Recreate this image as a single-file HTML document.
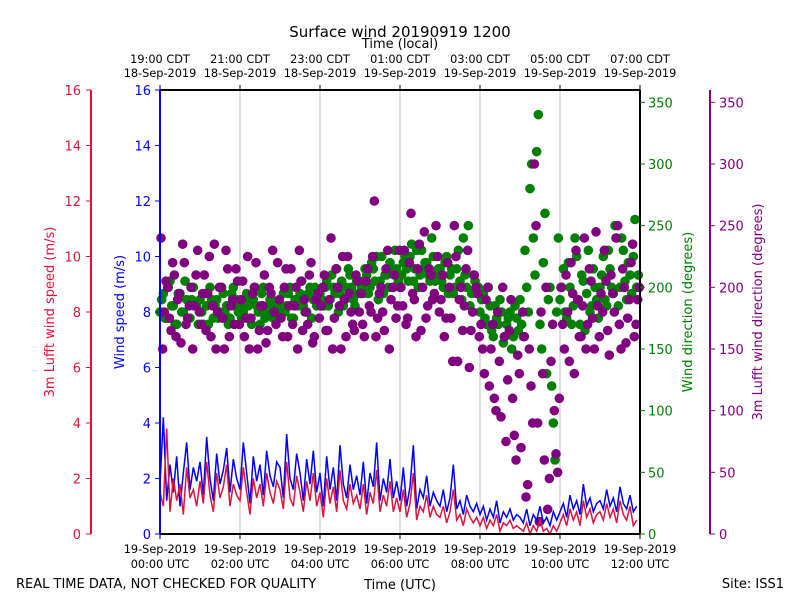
<!DOCTYPE html>
<html><head><meta charset="utf-8"><style>
body{margin:0;background:#fff}
svg text{font-family:"DejaVu Sans","Liberation Sans",sans-serif}
</style></head><body>
<svg id="c" width="800" height="600" xmlns="http://www.w3.org/2000/svg">
<text x="400" y="37" font-size="15" text-anchor="middle">Surface wind 20190919 1200</text>
<text x="400" y="48" font-size="13" text-anchor="middle">Time (local)</text>
<text x="400" y="589" font-size="13" text-anchor="middle">Time (UTC)</text>
<text x="16" y="588" font-size="13">REAL TIME DATA, NOT CHECKED FOR QUALITY</text>
<text x="784" y="588" font-size="13" text-anchor="end">Site: ISS1</text>
<text transform="translate(54,312) rotate(-90)" font-size="13" fill="#dc143c" text-anchor="middle">3m Lufft wind speed (m/s)</text>
<text transform="translate(124,312) rotate(-90)" font-size="13" fill="#0000ff" text-anchor="middle">Wind speed (m/s)</text>
<text transform="translate(692,312) rotate(-90)" font-size="13" fill="#008000" text-anchor="middle">Wind direction (degrees)</text>
<text transform="translate(762,312) rotate(-90)" font-size="13" fill="#800080" text-anchor="middle">3m Lufft wind direction (degrees)</text>
<g id="grid"></g><g id="marks"></g><g id="axes"></g>
</svg>
<script>
const blueSpeed=[1.8,4.2,1.2,2.5,1.5,2.8,1.0,2.2,3.3,1.6,2.4,1.9,2.6,1.4,3.5,2.0,1.2,2.9,1.8,2.3,3.1,1.5,2.7,2.0,1.6,3.3,2.2,1.1,2.8,1.9,2.5,1.4,3.0,2.1,1.7,2.6,2.4,1.3,3.6,2.0,1.6,2.9,2.2,1.2,2.7,1.8,3.0,1.5,2.2,1.0,2.8,1.6,2.4,1.2,3.2,1.8,1.3,2.5,1.6,2.1,1.4,2.6,1.1,2.2,1.7,3.3,1.2,2.0,1.5,2.7,1.3,1.9,1.2,2.4,1.0,1.7,3.2,0.9,1.6,1.3,2.1,1.0,1.5,1.2,1.0,1.6,0.8,1.3,2.5,0.9,1.2,0.7,1.4,1.0,0.8,1.1,0.7,1.0,0.5,0.9,0.6,1.2,0.4,0.8,0.6,0.9,0.5,0.7,0.6,0.4,0.9,0.3,0.7,0.5,1.0,0.4,0.6,0.3,0.8,0.5,0.8,1.1,0.6,1.4,0.9,1.2,0.7,1.8,1.0,1.3,0.8,1.1,1.2,0.9,1.6,1.0,1.3,0.8,1.7,1.1,0.9,1.4,0.8,1.0];
const redSpeed=[1.5,1.0,3.8,0.8,2.0,1.2,1.8,0.7,2.4,1.3,1.6,1.0,1.9,1.1,2.6,1.4,0.8,2.2,1.3,1.7,2.5,1.0,1.8,1.4,1.2,2.4,1.5,0.7,2.0,1.3,1.8,1.0,2.2,1.5,1.1,1.9,1.6,0.9,2.6,1.3,1.0,2.1,1.5,0.8,1.9,1.2,2.2,1.0,1.5,0.6,2.0,1.1,1.7,0.8,2.3,1.2,0.9,1.8,1.1,1.4,0.9,1.8,0.7,1.5,1.1,2.3,0.8,1.4,1.0,1.9,0.8,1.3,0.8,1.6,0.6,1.1,2.2,0.5,1.0,0.8,1.4,0.6,1.0,0.7,0.6,1.0,0.4,0.8,1.6,0.5,0.7,0.3,0.9,0.6,0.4,0.6,0.3,0.6,0.2,0.5,0.3,0.7,0.1,0.4,0.3,0.5,0.2,0.3,0.2,0.1,0.4,0.0,0.3,0.1,0.5,0.1,0.2,0.0,0.3,0.1,0.4,0.7,0.3,0.9,0.5,0.8,0.3,1.2,0.6,0.9,0.4,0.7,0.8,0.5,1.1,0.6,0.9,0.4,1.2,0.7,0.5,1.0,0.3,0.5];
const greenDir=[190,175,200,185,170,195,180,205,175,190,185,170,180,195,170,190,185,175,200,180,170,195,185,180,175,190,185,170,200,180,195,175,185,190,180,175,185,180,195,175,190,185,205,180,195,175,200,190,190,200,185,210,195,180,205,190,215,200,185,195,200,215,195,220,205,190,225,210,200,215,230,205,210,225,205,235,215,200,230,220,210,240,205,215,205,220,195,215,200,230,190,210,250,195,205,200,190,175,200,165,185,170,180,160,175,150,185,165,170,230,180,300,210,340,150,260,190,120,60,240,200,180,220,170,240,190,210,165,230,185,200,175,210,190,230,200,250,185,240,205,220,195,255,210];
const greenDir2=[180,195,175,205,185,170,195,180,190,175,200,185,190,170,185,200,175,190,180,195,185,175,200,190,185,180,195,175,190,185,170,200,180,190,175,185,180,195,185,200,175,190,195,185,180,200,190,185,195,185,205,190,200,215,195,185,200,210,190,205,205,195,210,200,215,225,205,195,210,220,200,215,200,220,215,225,205,230,210,215,220,205,225,210,215,200,225,210,195,215,205,240,200,185,210,195,180,195,170,185,160,175,190,155,170,180,160,175,190,160,200,280,240,310,170,220,130,200,90,180,190,215,175,200,185,225,170,205,195,180,215,190,200,225,185,215,195,240,200,230,190,210,225,200];
const purpleDir=[240,180,200,165,210,190,155,220,175,200,185,230,170,210,195,160,235,180,200,150,215,185,170,205,190,160,225,175,200,150,185,210,165,195,180,220,175,200,160,215,185,150,205,190,170,220,160,195,185,210,165,240,175,200,150,190,225,180,165,205,195,160,215,180,270,175,200,165,230,190,210,185,200,230,175,260,190,215,165,245,185,210,195,225,190,160,220,175,250,140,200,185,230,165,210,195,170,130,200,150,110,180,95,160,125,190,80,145,70,160,40,120,300,90,180,60,20,140,100,50,200,150,180,220,130,190,160,240,170,205,150,185,195,230,165,210,180,250,150,200,175,220,160,190];
const purpleDir2=[150,205,175,220,160,195,235,170,185,150,210,180,195,165,225,185,150,200,175,230,160,190,215,170,205,175,150,195,220,165,185,155,200,230,170,190,160,215,185,170,200,230,165,180,210,155,190,175,200,165,190,150,215,185,225,160,195,170,210,180,170,205,185,225,160,195,180,215,150,200,175,230,185,170,220,195,160,235,200,175,215,190,250,180,210,175,200,140,225,190,165,215,135,180,200,160,150,190,120,170,100,140,200,75,165,110,60,130,180,30,150,90,250,10,130,200,45,170,65,110,170,210,140,195,230,160,185,150,215,175,245,160,180,205,145,195,240,170,215,155,190,235,170,200];
const speedTicks=[0,2,4,6,8,10,12,14,16];
const dirTicks=[0,50,100,150,200,250,300,350];
const utcTicks=["00:00 UTC","02:00 UTC","04:00 UTC","06:00 UTC","08:00 UTC","10:00 UTC","12:00 UTC"];
const utcDates=["19-Sep-2019","19-Sep-2019","19-Sep-2019","19-Sep-2019","19-Sep-2019","19-Sep-2019","19-Sep-2019"];
const localTicks=["19:00 CDT","21:00 CDT","23:00 CDT","01:00 CDT","03:00 CDT","05:00 CDT","07:00 CDT"];
const localDates=["18-Sep-2019","18-Sep-2019","18-Sep-2019","19-Sep-2019","19-Sep-2019","19-Sep-2019","19-Sep-2019"];

const NS="http://www.w3.org/2000/svg";
const L=160,R=640,T=90,B=534;
const xT=h=>L+(R-L)*h/12;
const yS=v=>B-(B-T)*v/16;
const yD=v=>B-(B-T)*v/360;
function mk(tag,attrs,parent,txt){const e=document.createElementNS(NS,tag);for(const k in attrs)e.setAttribute(k,attrs[k]);if(txt!==undefined)e.textContent=txt;document.getElementById(parent).appendChild(e);return e;}
const step=12/blueSpeed.length;
for(let i=1;i<6;i++){const g=mk('line',{x1:xT(i*2),x2:xT(i*2),y1:T,y2:B,stroke:'#b0b0b0','stroke-width':0.8},'grid');

}
function dots(arr,off,col,name){arr.forEach((v,i)=>{const c=mk('circle',{cx:xT(i*step+step*off),cy:yD(v),r:4.8,fill:col},'marks');

});}
dots(greenDir,0.5,'#008000','green-direction-point');
dots(greenDir2,0.0,'#008000','green-direction-point');
dots(purpleDir,0.3,'#800080','purple-direction-point');
dots(purpleDir2,0.8,'#800080','purple-direction-point');
const bl=mk('polyline',{points:blueSpeed.map((v,i)=>xT(i*step)+','+yS(v)).join(' '),fill:'none',stroke:'#0000ff','stroke-width':1.5},'marks');


const rl=mk('polyline',{points:redSpeed.map((v,i)=>xT(i*step)+','+yS(v)).join(' '),fill:'none',stroke:'#dc143c','stroke-width':1.5},'marks');


[[L,T,R,T,'#000'],[L,B,R,B,'#000'],[R,T,R,B,'#000'],[L,T,L,B,'#0000ff'],[91,T,91,B,'#dc143c'],[710,T,710,B,'#800080']].forEach(s=>{
const e=mk('line',{x1:s[0],y1:s[1],x2:s[2],y2:s[3],stroke:s[4],'stroke-width':2},'axes');

});
speedTicks.forEach(v=>{const y=yS(v);
mk('line',{x1:86,x2:91,y1:y,y2:y,stroke:'#dc143c'},'axes');
const a=mk('text',{x:81,y:y+5,'font-size':13,fill:'#dc143c','text-anchor':'end'},'axes',v);


mk('line',{x1:155,x2:160,y1:y,y2:y,stroke:'#0000ff'},'axes');
const b=mk('text',{x:151,y:y+5,'font-size':13,fill:'#0000ff','text-anchor':'end'},'axes',v);

});
dirTicks.forEach(v=>{const y=yD(v);
mk('line',{x1:640,x2:645,y1:y,y2:y,stroke:'#008000'},'axes');
const a=mk('text',{x:648,y:y+5,'font-size':13,fill:'#008000'},'axes',v);


mk('line',{x1:710,x2:715,y1:y,y2:y,stroke:'#800080'},'axes');
const b=mk('text',{x:719,y:y+5,'font-size':13,fill:'#800080'},'axes',v);

});
utcTicks.forEach((t,i)=>{const x=xT(i*2);
mk('line',{x1:x,x2:x,y1:B,y2:B+5,stroke:'#000'},'axes');
const a=mk('text',{x:x,y:553,'font-size':11.3,'text-anchor':'middle'},'axes',utcDates[i]);


const b=mk('text',{x:x,y:568,'font-size':11.3,'text-anchor':'middle'},'axes',t);


mk('line',{x1:x,x2:x,y1:T-5,y2:T,stroke:'#000'},'axes');
const c=mk('text',{x:x,y:63,'font-size':11.3,'text-anchor':'middle'},'axes',localTicks[i]);


const d=mk('text',{x:x,y:77,'font-size':11.3,'text-anchor':'middle'},'axes',localDates[i]);

});
</script>
</body></html>
